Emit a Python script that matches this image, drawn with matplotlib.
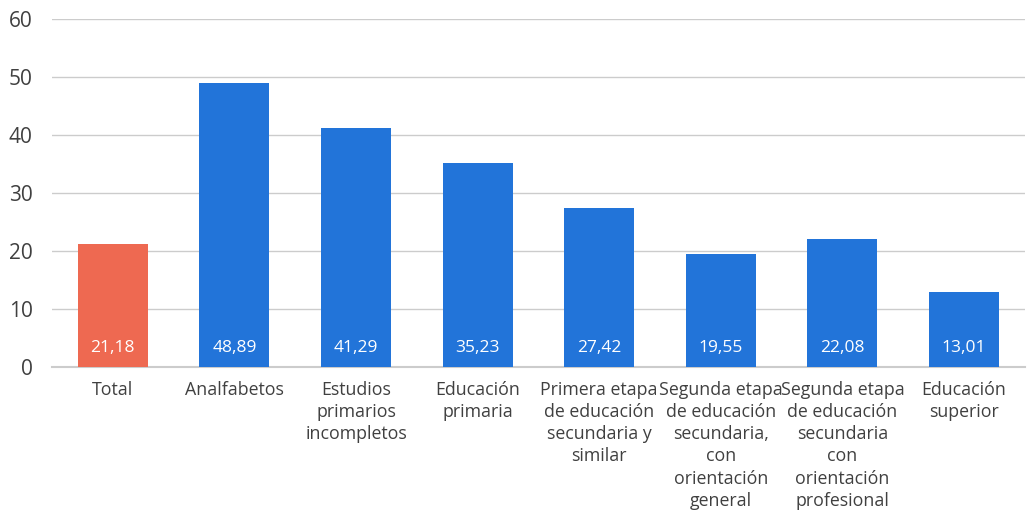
import matplotlib
matplotlib.use("Agg")
import matplotlib.pyplot as plt

categories = [
    "Total",
    "Analfabetos",
    "Estudios\nprimarios\nincompletos",
    "Educación\nprimaria",
    "Primera etapa\nde educación\nsecundaria y\nsimilar",
    "Segunda etapa\nde educación\nsecundaria,\ncon\norientación\ngeneral",
    "Segunda etapa\nde educación\nsecundaria\ncon\norientación\nprofesional",
    "Educación\nsuperior",
]
values = [21.18, 48.89, 41.29, 35.23, 27.42, 19.55, 22.08, 13.01]
value_labels = ["21,18", "48,89", "41,29", "35,23", "27,42", "19,55", "22,08", "13,01"]
yticks = [0, 10, 20, 30, 40, 50, 60]

plt.rcParams["font.family"] = ["Open Sans", "DejaVu Sans"]

fig = plt.figure(figsize=(10.30, 5.11), dpi=100)
ax = fig.add_axes([0.0505, 0.2818, 0.9445, 0.681])

colors = ["#ee6951"] + ["#2274d9"] * (len(values) - 1)
x = list(range(len(values)))
ax.bar(x, values, width=0.576, color=colors, zorder=3)

for xi, lab in zip(x, value_labels):
    ax.text(xi, 3.2, lab, ha="center", va="center", color="white",
            fontsize=12.5, zorder=4)

ax.set_xlim(-0.5, len(values) - 0.5)
ax.set_ylim(0, 60)
ax.set_yticks(yticks)
ax.set_yticklabels([str(v) for v in yticks], fontsize=15, color="#404040")
ax.set_xticks(x)
ax.set_xticklabels(categories, fontsize=12.8, color="#404040", linespacing=1.3)
ax.tick_params(axis="both", length=0)
ax.tick_params(axis="y", pad=14)
ax.tick_params(axis="x", pad=10)

ax.grid(True, axis="y", color="#cccccc", linewidth=1, zorder=0)
for side in ["top", "right", "left"]:
    ax.spines[side].set_visible(False)
ax.spines["bottom"].set_color("#cccccc")
ax.spines["bottom"].set_linewidth(1.5)

fig.savefig("out.png", dpi=100)
plt.close(fig)
